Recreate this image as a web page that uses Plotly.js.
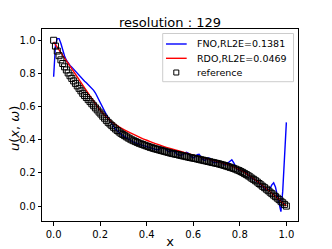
<!DOCTYPE html>
<html><head><meta charset="utf-8">
<script src="https://cdn.plot.ly/plotly-3.0.1.min.js"></script>
<style>html,body{margin:0;padding:0;background:#fff}#c{width:332px;height:249px}</style>
</head><body><div id="c"></div>
<script>
// reference solution, 129 points on [0,1]
const refValues = [1.000,0.965,0.935,0.907,0.882,0.860,0.840,0.821,0.803,0.786,0.770,0.755,0.740,0.725,0.710,0.695,0.680,0.667,0.655,0.642,0.630,0.617,0.605,0.592,0.580,0.567,0.555,0.542,0.530,0.517,0.505,0.495,0.485,0.475,0.465,0.456,0.447,0.439,0.432,0.425,0.418,0.411,0.405,0.399,0.394,0.389,0.384,0.379,0.375,0.371,0.367,0.363,0.359,0.355,0.352,0.348,0.345,0.342,0.339,0.336,0.333,0.330,0.327,0.324,0.321,0.318,0.316,0.313,0.311,0.308,0.306,0.303,0.301,0.298,0.296,0.293,0.291,0.289,0.287,0.284,0.282,0.279,0.277,0.274,0.272,0.269,0.267,0.264,0.262,0.259,0.257,0.254,0.251,0.248,0.245,0.241,0.238,0.234,0.231,0.227,0.223,0.218,0.214,0.208,0.203,0.196,0.190,0.183,0.176,0.168,0.161,0.153,0.145,0.136,0.128,0.119,0.111,0.102,0.093,0.084,0.075,0.066,0.057,0.048,0.039,0.029,0.020,0.010,0.000];
// FNO prediction, 129 points
const fnoValues = [0.78,0.97,1.01,1.01,0.98,0.94,0.905,0.88,0.86,0.848,0.838,0.826,0.812,0.798,0.785,0.772,0.762,0.753,0.744,0.734,0.724,0.712,0.698,0.682,0.662,0.64,0.617,0.595,0.573,0.552,0.532,0.513,0.495,0.479,0.465,0.453,0.443,0.434,0.426,0.418,0.41,0.403,0.397,0.391,0.386,0.381,0.377,0.373,0.369,0.366,0.362,0.358,0.355,0.351,0.348,0.345,0.342,0.34,0.342,0.35,0.354,0.347,0.336,0.33,0.328,0.334,0.332,0.322,0.312,0.308,0.306,0.31,0.318,0.324,0.32,0.306,0.295,0.292,0.298,0.31,0.312,0.296,0.282,0.277,0.28,0.29,0.288,0.272,0.262,0.262,0.262,0.266,0.266,0.256,0.248,0.252,0.262,0.275,0.279,0.262,0.238,0.222,0.216,0.212,0.21,0.211,0.198,0.185,0.175,0.168,0.162,0.156,0.148,0.138,0.128,0.118,0.108,0.098,0.095,0.105,0.128,0.14,0.115,0.065,0.01,-0.034,0.09,0.30,0.505];
// RDO prediction, 33 points
const rdoValues = [0.99,0.925,0.86,0.795,0.73,0.665,0.602,0.548,0.508,0.478,0.454,0.432,0.412,0.394,0.377,0.362,0.348,0.335,0.322,0.31,0.298,0.286,0.274,0.262,0.248,0.231,0.209,0.181,0.149,0.114,0.077,0.039,0.000];
const fnoName = 'FNO,RL2E=0.1381';
const rdoName = 'RDO,RL2E=0.0469';
const refName = 'reference';
const titleText = 'resolution : 129';
const xTitle = 'x';
const yTitle = '<i>u</i>(<i>x</i>, <i>ω</i>)';
const xTickVals = [0,0.2,0.4,0.6,0.8,1.0];
const yTickVals = [0,0.2,0.4,0.6,0.8,1.0];

const grid = (n) => Array.from({length:n}, (_, i) => i/(n-1));
const xRef = grid(refValues.length);
const xFno = grid(fnoValues.length);
const xRdo = grid(rdoValues.length);

const F = 'DejaVu Sans, sans-serif';
const BLUE = '#0000ff', RED = '#ff0000';
const traces = [
  {x:xFno, y:fnoValues, name:fnoName, mode:'lines', line:{color:BLUE, width:1.4}},
  {x:xRdo, y:rdoValues, name:rdoName, mode:'lines', line:{color:RED, width:1.4, shape:'spline'}},
  {x:xRef, y:refValues, name:refName, mode:'markers', marker:{symbol:'square-open', size:6, color:'#000', line:{width:1, color:'#000'}}}
];
const axisCommon = {showgrid:false, zeroline:false, showline:true, mirror:true, linecolor:'#000', linewidth:1,
  ticks:'outside', ticklen:3.5, tickwidth:1, tickcolor:'#000', tickfont:{family:F, size:10, color:'#000'}, tickformat:'.1f'};

// legend drawn in paper coordinates (compact matplotlib-style rows)
const lx0 = 0.4715, lx1 = 0.9824, ly0 = 0.7255, ly1 = 0.9766;
const rows = [0.9219, 0.8474, 0.7734];
const sx0 = 0.4844, sx1 = 0.5652, sxc = 0.5246, tx = 0.5977;
const shapes = [
  {type:'rect', xref:'paper', yref:'paper', x0:lx0, x1:lx1, y0:ly0, y1:ly1, fillcolor:'rgba(255,255,255,0.8)', line:{color:'#cccccc', width:1}, layer:'above'},
  {type:'line', xref:'paper', yref:'paper', x0:sx0, x1:sx1, y0:rows[0], y1:rows[0], line:{color:BLUE, width:1.4}, layer:'above'},
  {type:'line', xref:'paper', yref:'paper', x0:sx0, x1:sx1, y0:rows[1], y1:rows[1], line:{color:RED, width:1.4}, layer:'above'},
  {type:'rect', xref:'paper', yref:'paper', xsizemode:'pixel', ysizemode:'pixel', xanchor:sxc, yanchor:rows[2], x0:-2.5, x1:2.5, y0:-2.5, y1:2.5, line:{color:'#000', width:1}, fillcolor:'rgba(0,0,0,0)', layer:'above'}
];
const annotations = [fnoName, rdoName, refName].map((t, k) => ({
  text:t, xref:'paper', yref:'paper', x:tx, y:rows[k], xanchor:'left', yanchor:'middle', showarrow:false,
  font:{family:F, size:9.5, color:'#000'}
}));
annotations.push({text:yTitle, xref:'paper', yref:'paper', x:-0.105, y:0.48, xanchor:'center', yanchor:'middle',
  textangle:-90, showarrow:false, font:{family:F, size:13, color:'#000'}});
annotations.push({text:titleText, xref:'paper', yref:'paper', x:0.5, y:1.034, xanchor:'center', yanchor:'middle',
  showarrow:false, font:{family:F, size:13, color:'#000'}});

const layout = {
  width:332, height:249, paper_bgcolor:'#fff', plot_bgcolor:'#fff',
  margin:{l:42, r:34, t:29, b:28},
  showlegend:false,
  xaxis:Object.assign({}, axisCommon, {range:[-0.05,1.05], tickvals:xTickVals, title:{text:xTitle, font:{family:F, size:13, color:'#000'}, standoff:5}}),
  yaxis:Object.assign({}, axisCommon, {range:[-0.09,1.068], tickvals:yTickVals}),
  shapes:shapes, annotations:annotations
};
Plotly.newPlot('c', traces, layout, {staticPlot:true, displayModeBar:false});
</script></body></html>
